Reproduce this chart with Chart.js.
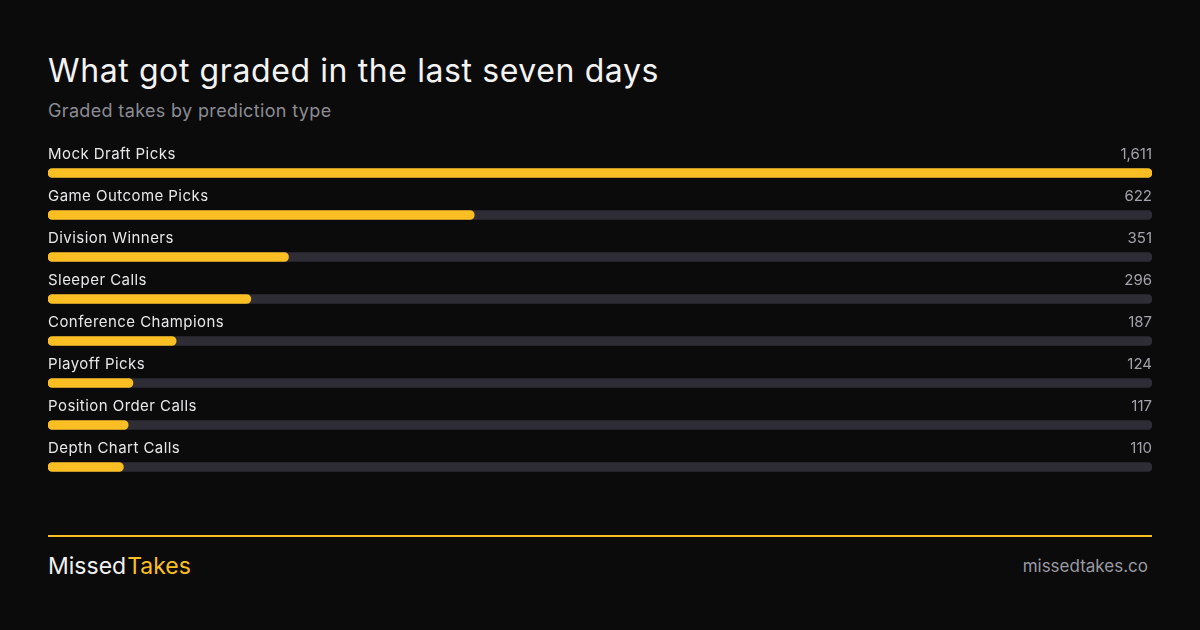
<!DOCTYPE html>
<html>
<head>
<meta charset="utf-8">
<script src="https://cdn.jsdelivr.net/npm/chart.js@4"></script>
<style>
    html, body { margin: 0; padding: 0; background: #0b0b0b; }
    body { width: 1200px; height: 630px; position: relative; overflow: hidden; font-family: Inter, "Noto Sans", sans-serif; }
    #title { position: absolute; left: 48px; top: 51px; font-size: 32px; color: #f3f3f3; letter-spacing: 0.6px; }
    #subtitle { position: absolute; left: 48px; top: 100px; font-size: 18px; color: #8b8b94; letter-spacing: 0.35px; }
    #chartBox { position: absolute; left: 48px; top: 131px; width: 1104px; height: 357px; }
    #rule { position: absolute; left: 48px; top: 535px; width: 1104px; height: 2px; background: #fbbf24; }
    #brand { position: absolute; left: 48px; top: 552px; font-size: 23px; color: #f0f0f0; }
    #brand span { color: #fbbf24; margin-left: 1px; }
    #site { position: absolute; right: 52px; top: 556px; font-size: 17px; color: #9a9aa2; }
</style>
</head>
<body>
<div id="title">What got graded in the last seven days</div>
<div id="subtitle">Graded takes by prediction type</div>
<div id="chartBox"><canvas id="takesChart"></canvas></div>
<div id="rule"></div>
<div id="brand">Missed<span>Takes</span></div>
<div id="site">missedtakes.co</div>
<script>
// Graded takes per prediction type
const categories = [
    'Mock Draft Picks',
    'Game Outcome Picks',
    'Division Winners',
    'Sleeper Calls',
    'Conference Champions',
    'Playoff Picks',
    'Position Order Calls',
    'Depth Chart Calls'
];
const takeCounts = [1611, 622, 351, 296, 187, 124, 117, 110];
const trackMax = 1611;

/**
 * Draws the category name and count above each bar.
 */
const rowLabels = {
    id: 'rowLabels',
    afterDatasetsDraw(chart) {
        const ctx = chart.ctx;
        const area = chart.chartArea;
        const meta = chart.getDatasetMeta(1);
        ctx.save();
        ctx.font = '15px Inter, "Noto Sans", sans-serif';
        ctx.textBaseline = 'middle';
        meta.data.forEach((bar, i) => {
            const y = bar.y - 19;
            ctx.letterSpacing = '0.45px';
            ctx.fillStyle = '#e8e8ea';
            ctx.textAlign = 'left';
            ctx.fillText(categories[i], area.left, y);
            ctx.letterSpacing = '0px';
            ctx.fillStyle = '#a3a3ab';
            ctx.textAlign = 'right';
            ctx.fillText(takeCounts[i].toLocaleString('en-US'), area.right, y);
        });
        ctx.restore();
    }
};

const ctx = document.getElementById('takesChart').getContext('2d');
new Chart(ctx, {
    type: 'bar',
    data: {
        labels: categories,
        datasets: [{
            // background track
            data: categories.map(() => trackMax),
            backgroundColor: '#2e2d35',
            barThickness: 9,
            borderRadius: 5,
            borderSkipped: false,
            order: 2
        }, {
            data: takeCounts,
            backgroundColor: '#fbbf24',
            barThickness: 9,
            borderRadius: 5,
            borderSkipped: false,
            order: 1
        }]
    },
    options: {
        indexAxis: 'y',
        responsive: true,
        maintainAspectRatio: false,
        animation: false,
        layout: { padding: { top: 21, bottom: 0, left: 0, right: 0 } },
        datasets: { bar: { grouped: false } },
        plugins: { legend: { display: false }, tooltip: { enabled: false } },
        scales: {
            x: { display: false, min: 0, max: trackMax },
            y: { display: false }
        }
    },
    plugins: [rowLabels]
});
</script>
</body>
</html>
